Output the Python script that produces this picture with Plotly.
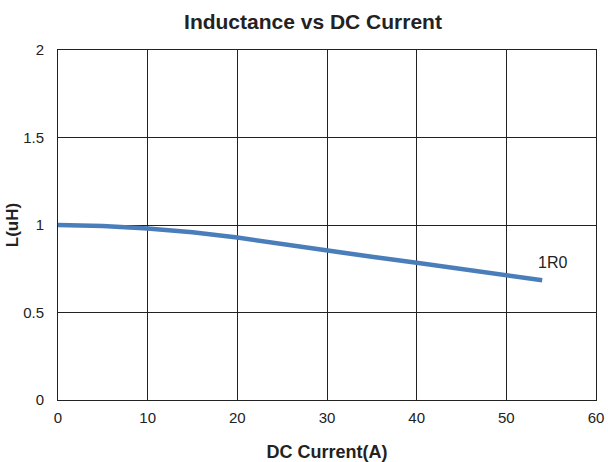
import plotly.graph_objects as go

# DC current (A) and inductance (uH)
current = [0, 5, 10, 15, 20, 25, 30, 35, 40, 45, 50, 54]
inductance = [1.0, 0.995, 0.98, 0.958, 0.928, 0.89, 0.853, 0.818, 0.784, 0.748, 0.712, 0.684]
series_name = "1R0"

x_ticks = [0, 10, 20, 30, 40, 50, 60]
y_ticks = [0, 0.5, 1, 1.5, 2]
y_labels = ["0", "0.5", "1", "1.5", "2"]

font = "Liberation Sans, Arial, sans-serif"
W, H = 608, 462

fig = go.Figure()
fig.add_trace(go.Scatter(x=current, y=inductance, mode="lines", name=series_name,
                         line=dict(color="#4a7ebb", width=4.5), showlegend=False))

fig.add_annotation(x=current[-1], y=inductance[-1], text=series_name, showarrow=False,
                   xanchor="left", yanchor="bottom", xshift=-6, yshift=7,
                   font=dict(family=font, size=16, color="#222"))

axis_common = dict(showgrid=True, gridcolor="#222", gridwidth=1, showline=True,
                   linecolor="#222", linewidth=1, mirror=True, zeroline=False,
                   ticks="", automargin=False,
                   tickfont=dict(family=font, size=15, color="#222"))

fig.update_xaxes(range=[0, 60], tickvals=x_ticks, ticklabelstandoff=4,
                 title=dict(text="<b>DC Current(A)</b>", standoff=20,
                            font=dict(family=font, size=18, color="#222")),
                 **axis_common)
fig.update_yaxes(range=[0, 2], tickvals=y_ticks, ticktext=y_labels, ticklabelstandoff=10,
                 title=dict(text="<b>L(uH)</b>", standoff=0,
                            font=dict(family=font, size=17, color="#222")),
                 **axis_common)

fig.update_layout(
    width=W, height=H,
    margin=dict(l=58, r=12, t=50, b=62),
    paper_bgcolor="white", plot_bgcolor="white",
    hovermode=False,
    title=dict(text="<b>Inductance vs DC Current</b>", x=313 / W, xanchor="center",
               yref="container", y=1 - 22 / H, yanchor="middle",
               font=dict(family=font, size=21, color="#222")),
)

# drop the default 8px body margin so the figure fills the window exactly
fig.write_html("out.html", config={"displayModeBar": False},
               post_script="document.body.style.margin='0';document.body.style.overflow='hidden';")
